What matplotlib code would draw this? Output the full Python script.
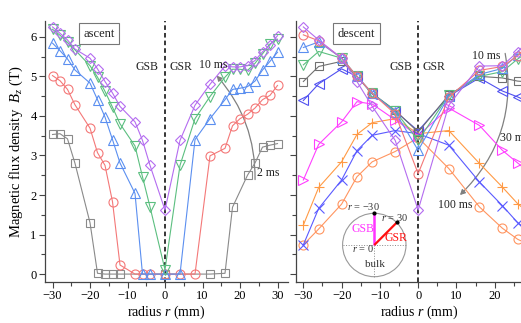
import matplotlib
matplotlib.use('Agg')
import matplotlib.pyplot as plt
from matplotlib.patches import FancyArrowPatch, Circle
from matplotlib.ticker import MultipleLocator, FixedLocator

plt.rcParams['font.family'] = ['Liberation Serif', 'DejaVu Serif']
plt.rcParams['mathtext.fontset'] = 'custom'
plt.rcParams['mathtext.rm'] = 'Liberation Serif'
plt.rcParams['mathtext.it'] = 'Liberation Serif:italic'

# ---------------- data: ascent ----------------
asc_x_full = [-30, -28, -26, -24, -20, -18, -16, -14, -12, -8, -6, -4, 0, 4, 8,
              12, 16, 18, 20, 22, 24, 26, 28, 30]
asc_gray_x = [-30, -28, -26, -24, -20, -18, -16, -14, -12, 0, 12, 16, 18, 22, 24, 26, 28, 30]
asc_gray_y = [3.53, 3.55, 3.42, 2.80, 1.30, 0.02, 0, 0, 0, 0, 0, 0.02, 1.69, 2.50, 2.81, 3.21, 3.26, 3.30]
asc_red_y = [5.02, 4.89, 4.67, 4.28, 3.69, 3.07, 2.75, 1.83, 0.23, 0, 0, 0, 0, 0, 0,
             2.99, 3.18, 3.75, 3.93, 4.04, 4.20, 4.41, 4.52, 4.77]
asc_blue_y = [5.84, 5.65, 5.44, 5.16, 4.83, 4.41, 3.97, 3.40, 2.81, 2.04, 0, 0, 0, 0, 3.40,
              3.93, 4.41, 4.67, 4.70, 4.74, 4.88, 5.16, 5.38, 5.61]
asc_green_y = [6.19, 6.04, 5.86, 5.67, 5.27, 4.98, 4.62, 4.22, 3.80, 3.24, 2.46, 1.70, 0.11, 2.75, 3.93,
               4.49, 4.98, 5.18, 5.18, 5.15, 5.33, 5.57, 5.82, 5.94]
asc_purple_y = [6.25, 6.09, 5.92, 5.69, 5.46, 5.19, 4.87, 4.58, 4.24, 3.85, 3.38, 2.75, 1.62, 3.38, 4.27,
                4.80, 5.26, 5.24, 5.24, 5.27, 5.40, 5.62, 5.79, 6.03]

# ---------------- data: descent ----------------
des_x = [-30, -26, -20, -16, -12, -6, 0, 8, 16, 22, 26, 30]
des_purple = [6.25, 5.92, 5.46, 4.87, 4.24, 3.38, 1.62, 4.27, 5.26, 5.27, 5.62, 6.03]
des_red = [6.05, 5.90, 5.46, 5.00, 4.57, 4.05, 2.54, 4.47, 5.15, 5.25, 5.52, 5.90]
des_blue = [5.73, 5.87, 5.46, 5.00, 4.57, 4.10, 3.13, 4.50, 5.05, 5.20, 5.55, 5.80]
des_green = [5.29, 5.63, 5.46, 5.00, 4.57, 4.12, 3.38, 4.52, 5.00, 5.12, 5.44, 5.70]
des_gray = [4.87, 5.25, 5.38, 5.00, 4.57, 4.14, 3.59, 4.53, 5.00, 4.96, 4.88, 4.85]
des_ltri = [4.39, 4.81, 5.19, 5.00, 4.55, 4.12, 3.62, 4.50, 4.96, 4.63, 4.48, 4.30]
des_rtri = [2.38, 3.28, 3.85, 4.36, 4.30, 3.90, 3.50, 4.20, 3.76, 3.13, 2.81, 2.50]
des_plus = [1.24, 2.19, 2.84, 3.53, 3.83, 3.93, 3.55, 3.63, 2.80, 2.20, 1.78, 1.45]
des_cross = [0.74, 1.66, 2.38, 3.12, 3.51, 3.63, 3.55, 3.26, 2.33, 1.73, 1.30, 1.00]
des_ocirc = [0.74, 1.14, 1.77, 2.46, 2.84, 3.10, 3.45, 2.67, 1.70, 1.16, 0.88, 0.70]

x_ticks_left = [-30, -20, -10, 0, 10, 20, 30]
x_ticks_right = [-30, -20, -10, 0, 10, 20]

C_GRAY = '#8a8a8a'
C_RED = '#f47878'
C_BLUE = '#5b8ff0'
C_GREEN = '#5cbf80'
C_PURPLE = '#b46cf0'
C_LTRI = '#5050f0'
C_RTRI = '#ff40ff'
C_PLUS = '#ff9a45'
C_CROSS = '#5a5aff'
C_OCIRC = '#ff9560'

W, H = 521, 323
fig = plt.figure(figsize=(W / 100, H / 100), dpi=100)
ax1 = fig.add_axes([45 / W, 41 / H, 243 / W, 261 / H])
ax2 = fig.add_axes([295.7 / W, 41 / H, 248 / W, 261 / H])


def line(ax, x, y, c, m, ms=6):
    ax.plot(x, y, color=c, marker=m, mec=c, lw=0.8, mew=0.8, mfc='none', ms=ms)


# ascent
line(ax1, asc_gray_x, asc_gray_y, C_GRAY, 's')
line(ax1, asc_x_full, asc_red_y, C_RED, 'o', 6.5)
line(ax1, asc_x_full, asc_blue_y, C_BLUE, '^', 6.5)
line(ax1, asc_x_full, asc_green_y, C_GREEN, 'v', 6.5)
line(ax1, asc_x_full, asc_purple_y, C_PURPLE, 'D', 5.5)

# descent
line(ax2, des_x, des_ocirc, C_OCIRC, 'o', 6.5)
line(ax2, des_x, des_cross, C_CROSS, 'x', 7)
line(ax2, des_x, des_plus, C_PLUS, '+', 7)
line(ax2, des_x, des_rtri, C_RTRI, '>', 6.5)
line(ax2, des_x, des_ltri, C_LTRI, '<', 6.5)
line(ax2, des_x, des_gray, '#707070', 's')
line(ax2, des_x, des_green, C_GREEN, 'v', 6.5)
line(ax2, des_x, des_blue, C_BLUE, '^', 6.5)
line(ax2, des_x, des_red, C_RED, 'o', 6.5)
line(ax2, des_x, des_purple, C_PURPLE, 'D', 5.5)

for ax, ticks in ((ax1, x_ticks_left), (ax2, x_ticks_right)):
    ax.set_xlim(-32, 32.8)
    ax.set_ylim(-0.2, 6.4)
    for s in ('top', 'right'):
        ax.spines[s].set_visible(False)
    for s in ('left', 'bottom'):
        ax.spines[s].set_color('#444444')
        ax.spines[s].set_linewidth(0.9)
    ax.xaxis.set_major_locator(FixedLocator(ticks))
    ax.xaxis.set_minor_locator(MultipleLocator(5))
    ax.yaxis.set_major_locator(MultipleLocator(1))
    ax.yaxis.set_minor_locator(MultipleLocator(0.5))
    ax.tick_params(which='major', direction='out', length=4, width=0.8, color='#444444',
                   labelsize=9, pad=2)
    ax.tick_params(which='minor', direction='out', length=3, width=0.8, color='#444444')
    ax.axvline(0, color='black', lw=1.1, ls=(0, (3, 2)), zorder=1)
    ax.text(-1.6, 5.23, 'GSB', ha='right', va='center', fontsize=8.5, color='#222222')
    ax.text(1.2, 5.23, 'GSR', ha='left', va='center', fontsize=8.5, color='#222222')
    ax.set_xlabel('radius $r$ (mm)', fontsize=10, labelpad=1)

ax1.text(-17.5, 6.08, 'ascent', ha='center', va='center', fontsize=9, color='#222222',
         bbox=dict(boxstyle='square,pad=0.35', fc='white', ec='#777777', lw=0.8))
ax2.text(-16.1, 6.08, 'descent', ha='center', va='center', fontsize=9, color='#222222',
         bbox=dict(boxstyle='square,pad=0.35', fc='white', ec='#777777', lw=0.8))

ax2.tick_params(axis='y', labelleft=False)
ax1.set_ylabel('Magnetic flux density  $B_z$ (T)', fontsize=10.5, labelpad=4)

# annotations ascent
ax1.text(12.8, 5.30, '10 ms', ha='center', va='center', fontsize=8.5, color='#222222')
ax1.text(24.5, 2.55, '2 ms', ha='left', va='center', fontsize=8.5, color='#222222')
ax1.add_patch(FancyArrowPatch((24.0, 2.32), (13.3, 5.07), connectionstyle='arc3,rad=0.2',
                              arrowstyle='-|>,head_length=3,head_width=1.6', color='#808080',
                              lw=0.9, mutation_scale=1))

# annotations descent
ax2.text(17.9, 5.52, '10 ms', ha='center', va='center', fontsize=8.5, color='#222222')
ax2.text(21.4, 3.43, '30 ms', ha='left', va='center', fontsize=8.5, color='#222222')
ax2.text(9.8, 1.74, '100 ms', ha='center', va='center', fontsize=8.5, color='#222222')
ax2.add_patch(FancyArrowPatch((22.6, 5.65), (10.4, 1.95), connectionstyle='arc3,rad=-0.27',
                              arrowstyle='-|>,head_length=3,head_width=1.6', color='#808080',
                              lw=0.9, mutation_scale=1))

# inset schematic
cx_px, cy_px, R = 374.3, 245.0, 31.7
half = 35.0
axi = fig.add_axes([(cx_px - half) / W, (H - cy_px - half) / H, 2 * half / W, 2 * half / H])
lim = half / R
axi.set_xlim(-lim, lim)
axi.set_ylim(-lim, lim)
axi.axis('off')
axi.patch.set_alpha(0)
axi.add_patch(Circle((0, 0), 1, fill=False, ec='#999999', lw=0.8))
axi.plot([-1, 1], [0, 0], color='#888888', lw=0.7, ls=':')
axi.plot([0, 0], [0, -1], color='#888888', lw=0.7, ls=':')
axi.plot([0, 0], [0, 1], color='#ff33ff', lw=1.8, solid_capstyle='butt')
axi.plot([0, 0.72], [0, 0.72], color='#ff1010', lw=1.6, solid_capstyle='butt')
axi.plot([0, 0.72], [1, 0.72], 'o', color='black', ms=2)
axi.text(-0.35, 0.5, 'GSB', color='#ff33ff', fontsize=8.5, ha='center', va='center')
axi.text(0.67, 0.21, 'GSR', color='#ff1010', fontsize=8.5, ha='center', va='center')
axi.text(-0.35, 1.21, '$r$ = \u221230', color='#333333', fontsize=7.5, ha='center', va='center', clip_on=False)
axi.text(0.63, 0.87, '$r$ = 30', color='#333333', fontsize=7.5, ha='center', va='center', clip_on=False)
axi.text(-0.35, -0.12, '$r$ = 0', color='#333333', fontsize=7.5, ha='center', va='center')
axi.text(0.02, -0.6, 'bulk', color='#333333', fontsize=8, ha='center', va='center')

fig.savefig('out.png', dpi=100)
